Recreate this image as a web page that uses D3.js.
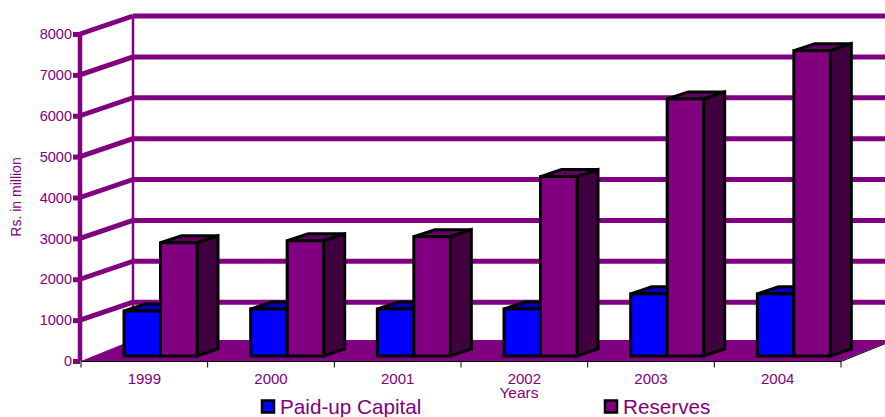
<!DOCTYPE html>
<html>
<head>
<meta charset="utf-8">
<script src="https://cdn.jsdelivr.net/npm/d3@7"></script>
<style>
html, body { margin: 0; padding: 0; background: #fff; }
svg { display: block; }
text { font-family: "Liberation Sans", Arial, sans-serif; fill: #800080; }
</style>
</head>
<body>
<svg width="885" height="417"></svg>
<script>
const years = ['1999', '2000', '2001', '2002', '2003', '2004'];
const paidUp = [1100, 1150, 1150, 1150, 1520, 1520];
const reserves = [2770, 2820, 2920, 4390, 6290, 7470];
const yTicks = [0, 1000, 2000, 3000, 4000, 5000, 6000, 7000, 8000];
const seriesNames = ['Paid-up Capital', 'Reserves'];

const purple = '#800080';
const svg = d3.select('svg');

const x = d3.scaleBand().domain(years).range([81, 841]);
const y = d3.scaleLinear().domain([0, 8000]).range([361, 34]);

// depth of the chart box and of the bars
const boxDx = 52, boxDy = -18;
const floorDy = -21;
const barDx = 21, barDy = -7;
const barBase = 5; // bars stand a little behind the front edge
const barW = 36.5, barStart = 43;

// floor
svg.append('path')
	.attr('d', d3.line()([[81, 361], [81 + boxDx, 361 + floorDy], [841 + boxDx, 361 + floorDy], [841, 361]]))
	.attr('fill', purple);

// back wall lines + side wall lines
const grid = svg.append('g');
yTicks.slice(1).forEach((t) => {
	grid.append('line')
		.attr('x1', 81 + boxDx).attr('x2', 885)
		.attr('y1', y(t) + boxDy).attr('y2', y(t) + boxDy)
		.attr('stroke', purple).attr('stroke-width', 5);
	grid.append('line')
		.attr('x1', 80).attr('x2', 81 + boxDx)
		.attr('y1', y(t)).attr('y2', y(t) + boxDy)
		.attr('stroke', purple).attr('stroke-width', 5);
});
grid.append('line')
	.attr('x1', 81 + boxDx).attr('x2', 81 + boxDx)
	.attr('y1', y(8000) + boxDy).attr('y2', 361 + floorDy)
	.attr('stroke', purple).attr('stroke-width', 2.5);

// y axis
const yAxis = svg.append('g')
	.attr('transform', 'translate(80,0)')
	.call(d3.axisLeft(y).tickValues(yTicks).tickSize(7).tickPadding(1).tickFormat(d3.format('d')));
yAxis.select('.domain').attr('stroke', purple).attr('stroke-width', 4.5).attr('d', `M0,${y(8000)}V${y(0)}`);
yAxis.selectAll('line').attr('stroke', purple).attr('stroke-width', 5);
yAxis.selectAll('text').attr('font-size', 14.5).attr('fill', purple).style('font-family', '"Liberation Sans", Arial, sans-serif');

// x axis, ticks sit on the band edges
const xAxis = svg.append('g')
	.attr('transform', 'translate(0,361.5)')
	.call(d3.axisBottom(x).tickSize(0).tickPadding(12));
xAxis.select('.domain').attr('stroke', '#000').attr('stroke-width', 1).attr('d', 'M81,0H841');
xAxis.selectAll('text').attr('font-size', 15).attr('fill', purple).style('font-family', '"Liberation Sans", Arial, sans-serif');
years.concat('end').forEach((d, i) => {
	const px = 81 + i * x.bandwidth();
	xAxis.append('line').attr('x1', px).attr('x2', px).attr('y1', 0).attr('y2', 6).attr('stroke', '#000');
});
svg.append('line')
	.attr('x1', 841).attr('y1', 361.5).attr('x2', 841 + boxDx).attr('y2', 361.5 + floorDy)
	.attr('stroke', '#000');

function drawBar(g, bx, top, base, front, topCol, sideCol) {
	g.append('path')
		.attr('d', d3.line()([[bx, top], [bx + barDx, top + barDy], [bx + barW + barDx, top + barDy], [bx + barW, top]]) + 'Z')
		.attr('fill', topCol);
	g.append('path')
		.attr('d', d3.line()([[bx + barW, top], [bx + barW + barDx, top + barDy], [bx + barW + barDx, base + barDy], [bx + barW, base]]) + 'Z')
		.attr('fill', sideCol);
	g.append('rect')
		.attr('x', bx).attr('y', top)
		.attr('width', barW).attr('height', base - top)
		.attr('fill', front);
}

const bars = svg.append('g')
	.attr('stroke', '#000').attr('stroke-width', 3).attr('stroke-linejoin', 'miter');
years.forEach((d, i) => {
	const bx = x(d) + barStart;
	const base = y(0) - barBase;
	drawBar(bars, bx, y(paidUp[i]) - barBase, base, '#0000ff', '#0000c0', '#000080');
	drawBar(bars, bx + barW, y(reserves[i]) - barBase, base, purple, '#600060', '#400040');
});

// axis titles
svg.append('text')
	.attr('transform', 'translate(21,197) rotate(-90)')
	.attr('text-anchor', 'middle').attr('font-size', 14)
	.text('Rs. in million');
svg.append('text')
	.attr('x', 519).attr('y', 398)
	.attr('text-anchor', 'middle').attr('font-size', 15.5)
	.text('Years');

// legend
const legendX = [262, 605];
const legendCol = ['#0000ff', purple];
seriesNames.forEach((name, i) => {
	svg.append('rect')
		.attr('x', legendX[i]).attr('y', 400.5)
		.attr('width', 12).attr('height', 12)
		.attr('fill', legendCol[i]).attr('stroke', '#000').attr('stroke-width', 2.5);
	svg.append('text')
		.attr('x', legendX[i] + 18).attr('y', 414)
		.attr('font-size', 20.7)
		.text(name);
});
</script>
</body>
</html>
